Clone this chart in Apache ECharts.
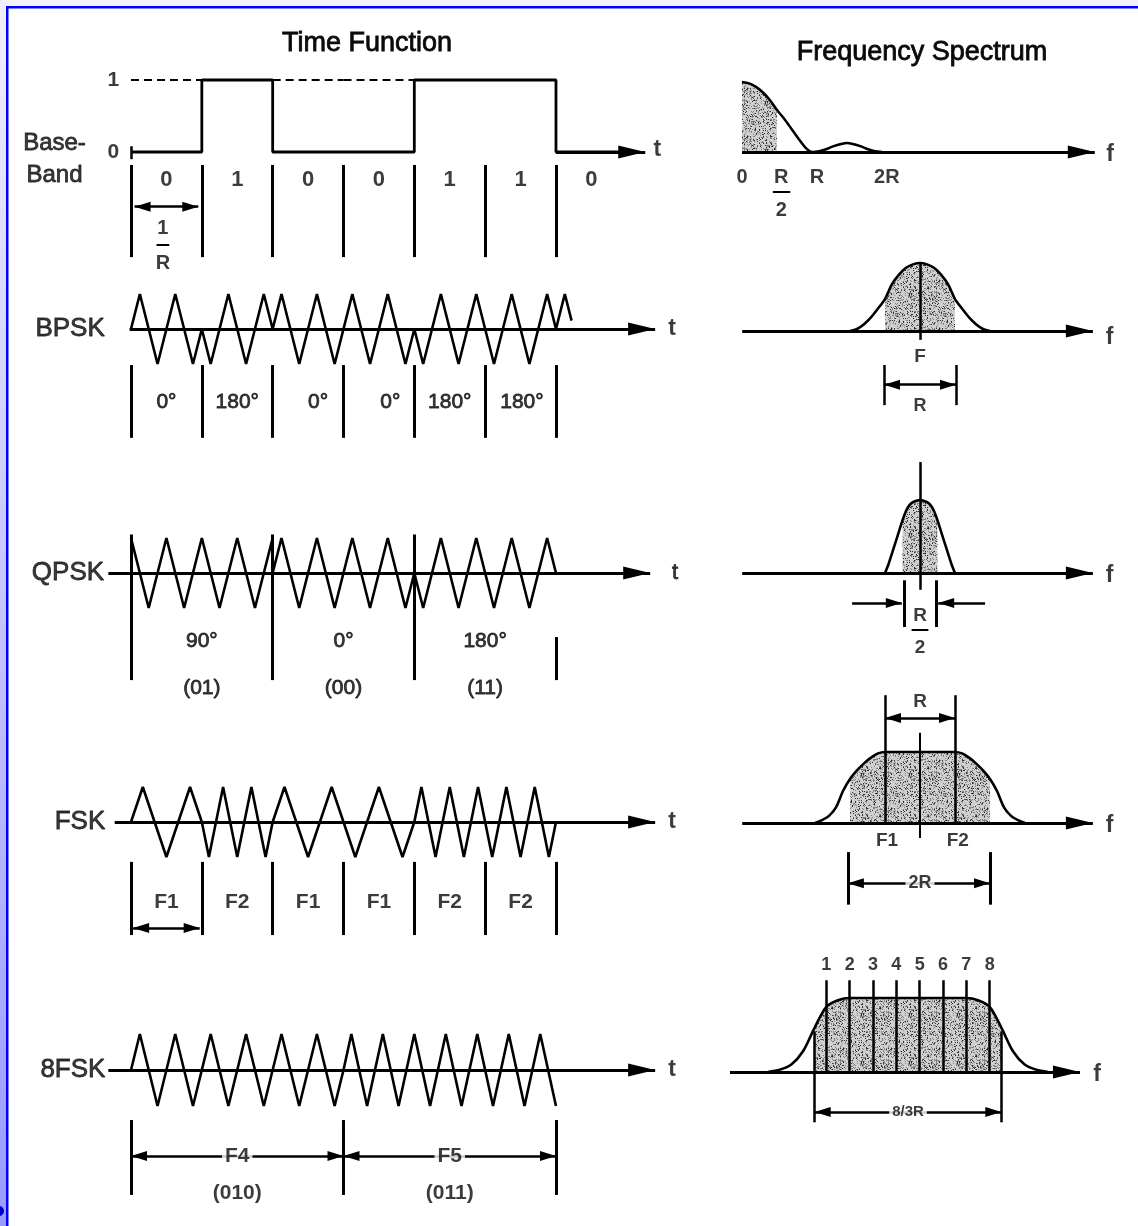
<!DOCTYPE html>
<html>
<head>
<meta charset="utf-8">
<script src="https://cdn.jsdelivr.net/npm/echarts@6/dist/echarts.min.js"></script>
<style>
html, body { margin: 0; padding: 0; background: #fff; }
#chart { width: 1138px; height: 1226px; }
</style>
</head>
<body>
<div id="chart"></div>
<script>
// ---- data ----
const baseBits = [0, 1, 0, 0, 1, 1, 0];
const bpskLabels = ['0°', '180°', '0°', '0°', '180°', '180°'];
const bpskLabelPos = [0.5, 1.5, 2.64, 3.66, 4.5, 5.52];
const bpskCyclesPerBit = 2;
const bpskEnd = 6.22;                       // wave runs a little into the 7th bit
const qpskPhases = [90, 0, 180];
const qpskLabels = ['90°', '0°', '180°'];
const qpskPairs = ['(01)', '(00)', '(11)'];
const qpskCyclesPerSymbol = 4;
const fskTones = ['F1', 'F2', 'F1', 'F1', 'F2', 'F2'];
const fskCycles = { F1: 1.5, F2: 2.5 };     // cycles per bit
const mfskTones = ['F4', 'F5'];
const mfskCodes = ['(010)', '(011)'];
const mfskCycles = { F4: 6, F5: 6.75 };     // cycles per 3-bit symbol

// spectra: offset from centre (units of R, 8FSK in units of R/3) and relative height
const baseSpecF = [0, 0.1, 0.2, 0.3, 0.4, 0.5, 0.6, 0.7, 0.8, 0.9, 1.0, 1.1, 1.2, 1.3, 1.4, 1.5, 1.6, 1.7, 1.8, 1.9, 2.0];
const baseSpecH = [1.0, 0.98, 0.93, 0.85, 0.74, 0.6, 0.48, 0.34, 0.2, 0.07, 0, 0.01, 0.04, 0.08, 0.11, 0.13, 0.11, 0.08, 0.04, 0.01, 0];
const bpskSpecF = [0, 0.1, 0.2, 0.3, 0.4, 0.5, 0.6, 0.7, 0.8, 0.9, 1.0];
const bpskSpecH = [1.0, 0.98, 0.93, 0.83, 0.69, 0.47, 0.33, 0.2, 0.1, 0.03, 0];
const qpskSpecF = [0, 0.05, 0.1, 0.15, 0.2, 0.25, 0.3, 0.35, 0.4, 0.45, 0.5];
const qpskSpecH = [1.0, 0.99, 0.97, 0.93, 0.85, 0.72, 0.57, 0.42, 0.27, 0.12, 0];
const fskSpecF = [0, 0.1, 0.2, 0.3, 0.4, 0.5, 0.6, 0.7, 0.8, 0.9, 1.0, 1.1, 1.2, 1.3, 1.4, 1.5];
const fskSpecH = [1, 1, 1, 1, 1, 1, 0.98, 0.92, 0.84, 0.74, 0.62, 0.45, 0.22, 0.1, 0.04, 0];
const mfskSpecF = [0, 0.5, 1, 1.5, 2, 2.5, 3, 3.5, 4, 4.5, 5, 5.5, 6];
const mfskSpecH = [1, 1, 1, 1, 1, 1, 0.97, 0.88, 0.6, 0.28, 0.1, 0.03, 0];
const mfskToneNums = ['1', '2', '3', '4', '5', '6', '7', '8'];
const mfskTonePos = [-3.5, -2.5, -1.5, -0.5, 0.5, 1.5, 2.5, 3.5];

// ---- layout ----
const FONT = '"Liberation Sans", Arial, sans-serif';
const INK = '#0a0a0a';
const BIT = 70.83, T0 = 131;   // px per bit, x of first bit edge
const RPX = 70;                // px per R in the spectrum column

const grids = [], xAxis = [], yAxis = [], series = [], panels = [];

function panel(o) {
  const p = Object.assign({ marks: [], texts: [], idx: grids.length }, o);
  grids.push({
    left: o.x0 + o.xMin * o.kx, width: (o.xMax - o.xMin) * o.kx,
    top: o.axisY - o.up * o.ky, height: (o.up + o.down) * o.ky
  });
  xAxis.push({ type: 'value', gridIndex: p.idx, min: o.xMin, max: o.xMax, show: false });
  yAxis.push({ type: 'value', gridIndex: p.idx, min: -o.down, max: o.up, show: false });
  panels.push(p);
  return p;
}

// stipple texture for shaded spectra
function stipple() {
  const c = document.createElement('canvas');
  c.width = c.height = 48;
  const g = c.getContext('2d');
  g.fillStyle = '#cfcfcf';
  g.fillRect(0, 0, 48, 48);
  let s = 12345;
  const next = () => (s = (s * 16807) % 2147483647);
  for (let k = 0; k < 800; k++) {
    const x = next() % 48, y = next() % 48;
    g.fillStyle = k % 3 ? '#808080' : '#303030';
    g.fillRect(x, y, 1, 1);
  }
  return c;
}
const dots = stipple();

function curve(p, pts, o = {}) {
  const s = {
    type: 'line', xAxisIndex: p.idx, yAxisIndex: p.idx, data: pts,
    showSymbol: false, symbol: 'none', smooth: o.smooth || false, clip: false, silent: true,
    z: o.area ? 2 : 3,
    lineStyle: o.area ? { width: 0, opacity: 0 } : { color: '#000', width: o.w || 2.6, type: o.dash || 'solid' }
  };
  if (o.area) s.areaStyle = { color: { image: dots, repeat: 'repeat' }, opacity: 1 };
  series.push(s);
}

function seg(p, x1, y1, x2, y2, o = {}) {
  const head = o.head || [12, 26];
  p.marks.push([
    { coord: [x1, y1], symbol: o.from || 'none', symbolSize: head, symbolOffset: [0, head[1] / 2],
      lineStyle: { color: '#000', width: o.w || 3, type: 'solid' } },
    { coord: [x2, y2], symbol: o.to || 'none', symbolSize: head, symbolOffset: [0, head[1] / 2] }
  ]);
}
const dbl = (p, x1, y, x2, w) => seg(p, x1, y, x2, y, { from: 'triangle', to: 'triangle', head: [10, 16], w: w || 2.5 });
const axisArrow = (p, x1, x2) => seg(p, x1, 0, x2, 0, { to: 'triangle', head: [13, 27], w: 3 });

function txt(p, x, y, s, size, weight, bg) {
  const label = { fontSize: size || 20, fontWeight: weight || 'normal' };
  if (weight !== 'bold') { label.textBorderColor = INK; label.textBorderWidth = 0.8; }
  if (bg) { label.backgroundColor = '#fff'; label.padding = [0, 3]; }
  p.texts.push({ name: s, value: [x, y], label });
}

// piecewise-linear triangle carrier through its peaks
function tri(ph) {
  const q = ((ph % 1) + 1) % 1;
  return q < 0.25 ? 4 * q : q < 0.75 ? 2 - 4 * q : 4 * q - 4;
}
function wave(segs) {
  const pts = [];
  segs.forEach(s => {
    const p1 = s.p0 + s.cyc * (s.x1 - s.x0);
    pts.push([s.x0, tri(s.p0)]);
    let ph = 0.25 + 0.5 * Math.ceil((s.p0 - 0.25) / 0.5 + 1e-9);
    for (; ph < p1 - 1e-9; ph += 0.5) pts.push([s.x0 + (ph - s.p0) / s.cyc, tri(ph)]);
    pts.push([s.x1, tri(p1)]);
  });
  return pts;
}
function mirror(fs, hs) {
  const pts = [];
  for (let i = fs.length - 1; i > 0; i--) pts.push([-fs[i], hs[i]]);
  fs.forEach((f, i) => pts.push([f, hs[i]]));
  return pts;
}
function within(pts, a, b) {
  return pts.filter(d => d[0] >= a - 1e-9 && d[0] <= b + 1e-9);
}

// ---- time function column ----
const TX = { x0: T0, kx: BIT, xMin: -1.65, xMax: 7.9 };
const pB = panel(Object.assign({ axisY: 152, ky: 72, up: 1.3, down: 1.75 }, TX));
const pBp = panel(Object.assign({ axisY: 329, ky: 35, up: 1.5, down: 3.4 }, TX));
const pQp = panel(Object.assign({ axisY: 573, ky: 35, up: 1.5, down: 3.6 }, TX));
const pF = panel(Object.assign({ axisY: 822, ky: 35, up: 1.5, down: 3.5 }, TX));
const pM = panel(Object.assign({ axisY: 1070, ky: 36, up: 1.5, down: 3.7 }, TX));

// baseband
const step = [];
baseBits.forEach((b, i) => { step.push([i, b], [i + 1, b]); });
curve(pB, step, { w: 2.8 });
baseBits.slice(0, 6).forEach((b, i) => { if (b === 0) curve(pB, [[i, 1], [i + 1, 1]], { dash: [8, 5], w: 2.2 }); });
seg(pB, 0, 0.08, 0, -0.1, { w: 2.5 });
axisArrow(pB, 6, 7.26);
for (let i = 0; i <= 6; i++) seg(pB, i, -0.18, i, -1.46);
baseBits.forEach((b, i) => txt(pB, i + 0.5, -0.39, String(b), 22, 'bold'));
dbl(pB, 0.05, -0.76, 0.95);
txt(pB, 0.45, -1.06, '1', 20, 'bold');
seg(pB, 0.36, -1.29, 0.54, -1.29, { w: 2 });
txt(pB, 0.45, -1.55, 'R', 20, 'bold');
txt(pB, -1.08, 0.125, 'Base-', 24);
txt(pB, -1.08, -0.33, 'Band', 24);
txt(pB, -0.25, 0, '0', 21, 'bold');
txt(pB, -0.25, 1, '1', 21, 'bold');
txt(pB, 7.43, 0.03, 't', 23, 'bold');

// BPSK: phase follows the baseband bit
curve(pBp, wave(baseBits.map((b, i) => ({
  x0: i, x1: i === baseBits.length - 1 ? bpskEnd : i + 1, p0: b * 0.5, cyc: bpskCyclesPerBit
}))));
axisArrow(pBp, -0.02, 7.4);
for (let i = 0; i <= 6; i++) seg(pBp, i, -1.03, i, -3.11);
bpskLabels.forEach((s, i) => txt(pBp, bpskLabelPos[i], -2.09, s, 21));
txt(pBp, -0.86, 0, 'BPSK', 26);
txt(pBp, 7.64, 0, 't', 23, 'bold');

// QPSK
curve(pQp, wave(qpskPhases.map((ph, i) => ({
  x0: 2 * i, x1: 2 * i + 2, p0: ph / 360, cyc: qpskCyclesPerSymbol / 2
}))));
axisArrow(pQp, -0.32, 7.33);
[0, 2, 4].forEach(x => seg(pQp, x, 1.1, x, -3.06));
seg(pQp, 6, -1.83, 6, -3.06);
qpskLabels.forEach((s, i) => txt(pQp, 2 * i + 1, -1.94, s, 21));
qpskPairs.forEach((s, i) => txt(pQp, 2 * i + 1, -3.29, s, 21));
txt(pQp, -0.89, 0, 'QPSK', 26);
txt(pQp, 7.68, 0, 't', 22);

// FSK (continuous phase)
let acc = 0;
curve(pF, wave(fskTones.map((t, i) => {
  const s = { x0: i, x1: i + 1, p0: acc, cyc: fskCycles[t] };
  acc += fskCycles[t];
  return s;
})));
axisArrow(pF, -0.23, 7.4);
for (let i = 0; i <= 6; i++) seg(pF, i, -1.14, i, -3.23);
fskTones.forEach((t, i) => txt(pF, i + 0.5, -2.29, t, 21, 'bold'));
dbl(pF, 0.03, -3.03, 0.97);
txt(pF, -0.72, 0, 'FSK', 26);
txt(pF, 7.64, 0, 't', 23, 'bold');

// 8FSK (3 bits per symbol)
acc = 0;
curve(pM, wave(mfskTones.map((t, i) => {
  const s = { x0: 3 * i, x1: 3 * i + 3, p0: acc, cyc: mfskCycles[t] / 3 };
  acc += mfskCycles[t];
  return s;
})));
axisArrow(pM, -0.32, 7.4);
[0, 3, 6].forEach(x => seg(pM, x, -1.39, x, -3.47));
mfskTones.forEach((t, i) => {
  dbl(pM, 3 * i, -2.39, 3 * i + 3);
  txt(pM, 3 * i + 1.5, -2.39, t, 21, 'bold', true);
  txt(pM, 3 * i + 1.5, -3.42, mfskCodes[i], 21, 'bold');
});
txt(pM, -0.82, 0, '8FSK', 26);
txt(pM, 7.64, 0, 't', 23, 'bold');

// ---- frequency spectrum column ----
const pSB = panel({ x0: 742, kx: RPX, xMin: -0.55, xMax: 5.55, axisY: 152, ky: 70, up: 1.3, down: 1.0 });
const pSBp = panel({ x0: 920, kx: RPX, xMin: -3.1, xMax: 3.0, axisY: 331, ky: 68, up: 1.3, down: 1.3 });
const pSQ = panel({ x0: 920, kx: RPX, xMin: -3.1, xMax: 3.0, axisY: 573, ky: 73, up: 1.7, down: 1.2 });
const pSF = panel({ x0: 920, kx: RPX, xMin: -3.1, xMax: 3.0, axisY: 823, ky: 71, up: 2.0, down: 1.3 });
const pSM = panel({ x0: 908, kx: RPX / 3, xMin: -8.5, xMax: 9.0, axisY: 1072, ky: 74, up: 1.7, down: 0.9 });

// baseband spectrum
const bs = baseSpecF.map((f, i) => [f, baseSpecH[i]]);
curve(pSB, within(bs, 0, 0.5), { area: true, smooth: 0.3 });
curve(pSB, bs, { smooth: 0.3, w: 2.5 });
axisArrow(pSB, 0, 5.04);
txt(pSB, 0, -0.37, '0', 20, 'bold');
txt(pSB, 0.56, -0.37, 'R', 20, 'bold');
seg(pSB, 0.44, -0.57, 0.69, -0.57, { w: 2 });
txt(pSB, 0.56, -0.84, '2', 20, 'bold');
txt(pSB, 1.07, -0.37, 'R', 20, 'bold');
txt(pSB, 2.07, -0.37, '2R', 20, 'bold');
txt(pSB, 5.26, -0.04, 'f', 23, 'bold');

// BPSK spectrum
const bp = mirror(bpskSpecF, bpskSpecH);
curve(pSBp, within(bp, -0.5, 0.5), { area: true, smooth: 0.3 });
curve(pSBp, bp, { smooth: 0.3 });
axisArrow(pSBp, -2.54, 2.47);
seg(pSBp, 0, 1.01, 0, -0.13, { w: 2.5 });
txt(pSBp, 0, -0.38, 'F', 19, 'bold');
[-0.514, 0.514].forEach(x => seg(pSBp, x, -0.5, x, -1.09, { w: 2.5 }));
dbl(pSBp, -0.514, -0.79, 0.514);
txt(pSBp, 0, -1.1, 'R', 18, 'bold');
txt(pSBp, 2.71, -0.1, 'f', 23, 'bold');

// QPSK spectrum
const qp = mirror(qpskSpecF, qpskSpecH);
curve(pSQ, within(qp, -0.25, 0.25), { area: true, smooth: 0.3 });
curve(pSQ, qp, { smooth: 0.3 });
axisArrow(pSQ, -2.54, 2.47);
seg(pSQ, 0, 1.52, 0, -0.23, { w: 2.5 });
[-0.23, 0.23].forEach(x => seg(pSQ, x, -0.1, x, -0.74, { w: 3 }));
seg(pSQ, -0.97, -0.41, -0.26, -0.41, { to: 'triangle', head: [10, 16], w: 2.5 });
seg(pSQ, 0.93, -0.41, 0.26, -0.41, { to: 'triangle', head: [10, 16], w: 2.5 });
txt(pSQ, 0, -0.58, 'R', 19, 'bold');
seg(pSQ, -0.12, -0.78, 0.12, -0.78, { w: 2 });
txt(pSQ, 0, -1.03, '2', 19, 'bold');
txt(pSQ, 2.71, -0.03, 'f', 23, 'bold');

// FSK spectrum
const fp = mirror(fskSpecF, fskSpecH);
curve(pSF, within(fp, -1.0, 1.0), { area: true, smooth: 0.3 });
curve(pSF, fp, { smooth: 0.3 });
axisArrow(pSF, -2.54, 2.47);
[-0.5, 0.5].forEach(x => seg(pSF, x, 1.8, x, 0, { w: 2.5 }));
seg(pSF, 0, 1.27, 0, -0.21, { w: 2 });
dbl(pSF, -0.5, 1.48, 0.5);
txt(pSF, 0, 1.71, 'R', 19, 'bold');
txt(pSF, -0.47, -0.25, 'F1', 19, 'bold');
txt(pSF, 0.54, -0.25, 'F2', 19, 'bold');
[-1.03, 1.0].forEach(x => seg(pSF, x, -0.41, x, -1.15, { w: 3 }));
dbl(pSF, -1.03, -0.85, 1.0);
txt(pSF, 0, -0.85, '2R', 18, 'bold', true);
txt(pSF, 2.71, -0.04, 'f', 23, 'bold');

// 8FSK spectrum
const mp = mirror(mfskSpecF, mfskSpecH);
curve(pSM, within(mp, -4, 4), { area: true, smooth: 0.3 });
curve(pSM, mp, { smooth: 0.3 });
axisArrow(pSM, -7.63, 7.37);
mfskTonePos.forEach((x, i) => {
  seg(pSM, x, 1.24, x, 0, { w: 2.5 });
  txt(pSM, x, 1.45, mfskToneNums[i], 18, 'bold');
});
[-4, 4].forEach(x => seg(pSM, x, 0.55, x, -0.68, { w: 2.5 }));
dbl(pSM, -4, -0.54, 4);
txt(pSM, 0, -0.54, '8/3R', 15, 'bold', true);
txt(pSM, 8.1, -0.04, 'f', 23, 'bold');

// annotation layers per panel
panels.forEach(p => {
  series.push({
    type: 'line', xAxisIndex: p.idx, yAxisIndex: p.idx, data: [[p.xMin, 0]],
    symbol: 'none', lineStyle: { opacity: 0 }, silent: true, z: 4,
    markLine: {
      silent: true, animation: false, label: { show: false }, emphasis: { disabled: true },
      symbol: ['none', 'none'], data: p.marks
    }
  });
  series.push({
    type: 'scatter', xAxisIndex: p.idx, yAxisIndex: p.idx, symbolSize: 0, silent: true, clip: false, z: 6,
    data: p.texts,
    label: {
      show: true, position: 'inside', formatter: '{b}', color: INK,
      fontFamily: FONT, align: 'center', verticalAlign: 'middle'
    }
  });
});

const chart = echarts.init(document.getElementById('chart'));
chart.setOption({
  animation: false,
  backgroundColor: '#fff',
  grid: grids,
  xAxis: xAxis,
  yAxis: yAxis,
  series: series,
  graphic: [
    { type: 'rect', shape: { x: 0, y: 0, width: 1138, height: 6 }, style: { fill: '#f1f1fa' }, silent: true },
    { type: 'rect', shape: { x: 0, y: 0, width: 6, height: 1226 }, silent: true,
      style: { fill: new echarts.graphic.LinearGradient(0, 0, 0, 1, [
        { offset: 0, color: '#efeff9' }, { offset: 1, color: '#9a9aff' }]) } },
    { type: 'rect', shape: { x: 6, y: 6, width: 1132, height: 2.5 }, style: { fill: '#0000ff' }, silent: true },
    { type: 'rect', shape: { x: 6, y: 6, width: 2.5, height: 1220 }, style: { fill: '#0000ff' }, silent: true },
    { type: 'circle', shape: { cx: -1, cy: 1211, r: 5 }, style: { fill: '#0000cc' }, silent: true },
    { type: 'text', x: 367, y: 44, silent: true,
      style: { text: 'Time Function', align: 'center', verticalAlign: 'middle', fontSize: 27, fontFamily: FONT,
        fill: INK, stroke: INK, lineWidth: 0.8 } },
    { type: 'text', x: 922, y: 53, silent: true,
      style: { text: 'Frequency Spectrum', align: 'center', verticalAlign: 'middle', fontSize: 27, fontFamily: FONT,
        fill: INK, stroke: INK, lineWidth: 0.8 } }
  ]
});
</script>
</body>
</html>
